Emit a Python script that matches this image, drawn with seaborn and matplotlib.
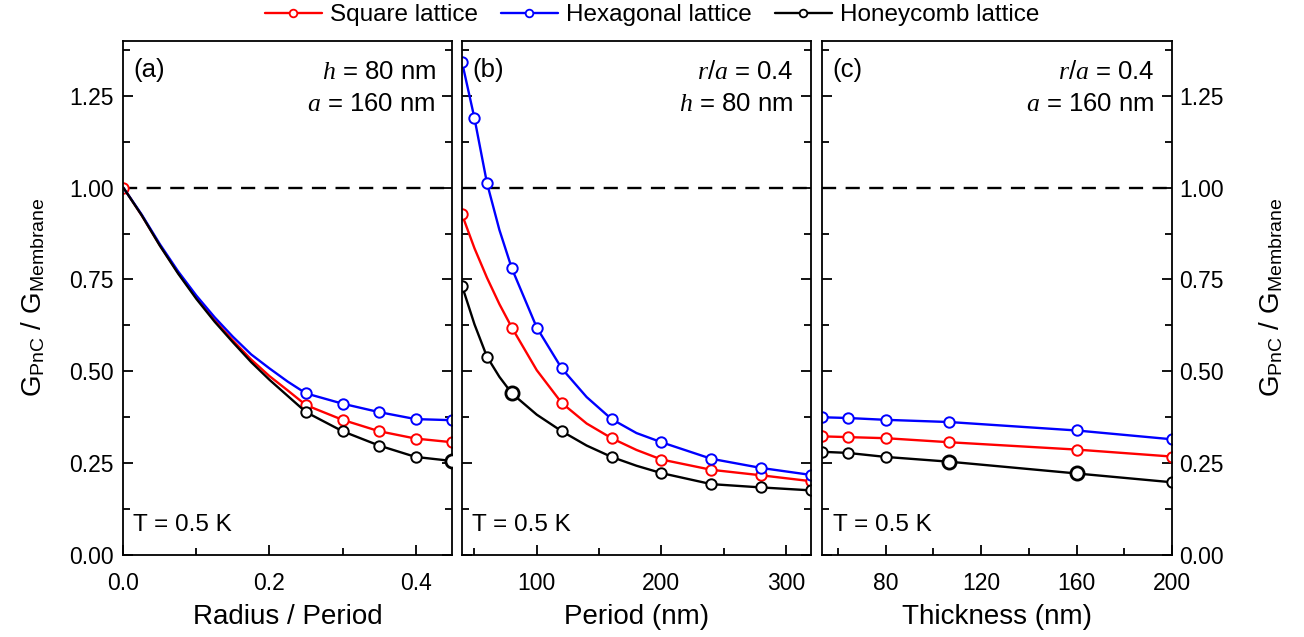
import matplotlib
matplotlib.use("Agg")
import matplotlib.pyplot as plt
import seaborn as sns
from matplotlib.ticker import MultipleLocator, FormatStrFormatter
from matplotlib.lines import Line2D

# series names and colours
lattices = ["Square lattice", "Hexagonal lattice", "Honeycomb lattice"]
colors = ["#ff0000", "#0000ff", "#000000"]

# (a) ratio vs radius / period  (h = 80 nm, a = 160 nm)
ra_x = [0.0, 0.025, 0.05, 0.075, 0.10, 0.125, 0.15, 0.175, 0.20, 0.225, 0.25, 0.30, 0.35, 0.40, 0.45]
ra_square = [1.0, 0.925, 0.843, 0.768, 0.700, 0.639, 0.584, 0.532, 0.487, 0.448, 0.408, 0.368, 0.337, 0.317, 0.307]
ra_hex = [1.0, 0.927, 0.846, 0.772, 0.706, 0.647, 0.594, 0.546, 0.508, 0.472, 0.440, 0.412, 0.389, 0.370, 0.367]
ra_honey = [1.0, 0.925, 0.842, 0.766, 0.697, 0.635, 0.579, 0.525, 0.477, 0.433, 0.389, 0.337, 0.298, 0.267, 0.256]
ra_marks = {"Square lattice": [0.0, 0.25, 0.30, 0.35, 0.40, 0.45],
            "Hexagonal lattice": [0.25, 0.30, 0.35, 0.40, 0.45],
            "Honeycomb lattice": [0.25, 0.30, 0.35, 0.40, 0.45]}
ra_bold = [0.45]

# (b) ratio vs period  (r/a = 0.4, h = 80 nm)
per_x = [40, 50, 60, 70, 80, 100, 120, 140, 160, 180, 200, 240, 280, 320]
per_square = [0.927, 0.835, 0.755, 0.683, 0.619, 0.503, 0.414, 0.358, 0.318, 0.286, 0.260, 0.232, 0.217, 0.201]
per_hex = [1.342, 1.189, 1.013, 0.885, 0.780, 0.619, 0.508, 0.430, 0.370, 0.332, 0.307, 0.262, 0.237, 0.218]
per_honey = [0.733, 0.628, 0.540, 0.485, 0.440, 0.382, 0.337, 0.298, 0.267, 0.243, 0.223, 0.193, 0.184, 0.176]
per_marks = {"Square lattice": [40, 80, 120, 160, 200, 240, 280, 320],
             "Hexagonal lattice": [40, 50, 60, 80, 100, 120, 160, 200, 240, 280, 320],
             "Honeycomb lattice": [40, 60, 80, 120, 160, 200, 240, 280, 320]}
per_bold = [80]

# (c) ratio vs thickness  (r/a = 0.4, a = 160 nm)
th_x = [53.33, 64, 80, 106.67, 160, 200]
th_square = [0.323, 0.321, 0.318, 0.307, 0.287, 0.268]
th_hex = [0.375, 0.373, 0.368, 0.362, 0.339, 0.315]
th_honey = [0.281, 0.278, 0.267, 0.254, 0.222, 0.198]
th_marks = {name: th_x for name in lattices}
th_bold = [106.67, 160]

sns.set_theme(style="ticks")
plt.rcParams["font.family"] = ["Liberation Sans", "DejaVu Sans"]
plt.rcParams.update({
    "mathtext.fontset": "custom",
    "mathtext.rm": "Liberation Sans",
    "mathtext.it": "Liberation Serif:italic",
    "mathtext.bf": "Liberation Sans:bold",
    "text.color": "black",
    "axes.labelcolor": "black",
    "axes.edgecolor": "black",
    "axes.linewidth": 1.3,
    "xtick.color": "black",
    "ytick.color": "black",
})

fig = plt.figure(figsize=(13.04, 6.37), dpi=100)
bot, hgt = 0.1287, 0.8074
ax_a = fig.add_axes([0.0946, bot, 0.2521, hgt])
ax_b = fig.add_axes([0.3543, bot, 0.2676, hgt])
ax_c = fig.add_axes([0.6304, bot, 0.2684, hgt])


def draw_panel(ax, x, ys, marks, bold):
    for name, col in zip(lattices, colors):
        y = ys[name]
        idx = [x.index(v) for v in marks[name]]
        sns.lineplot(x=x, y=y, ax=ax, color=col, lw=1.7, marker="o", markevery=idx,
                     markersize=7.5, markerfacecolor="white", markeredgecolor=col,
                     markeredgewidth=1.4, estimator=None, sort=False, legend=False)
    # a few honeycomb points are drawn heavier in the original
    yh = ys["Honeycomb lattice"]
    by = [yh[x.index(v)] for v in bold]
    ax.plot(bold, by, "o", ms=9.5, mfc="white", mec="black", mew=2.0, zorder=5)
    ax.axhline(1.0, color="black", lw=1.7, ls=(0, (6, 4)), zorder=1)


draw_panel(ax_a, ra_x, dict(zip(lattices, [ra_square, ra_hex, ra_honey])), ra_marks, ra_bold)
draw_panel(ax_b, per_x, dict(zip(lattices, [per_square, per_hex, per_honey])), per_marks, per_bold)
draw_panel(ax_c, th_x, dict(zip(lattices, [th_square, th_hex, th_honey])), th_marks, th_bold)

ax_a.set_xlim(0, 0.45)
ax_a.xaxis.set_major_locator(MultipleLocator(0.2))
ax_a.xaxis.set_minor_locator(MultipleLocator(0.1))
ax_a.xaxis.set_major_formatter(FormatStrFormatter("%.1f"))
ax_a.set_xlabel("Radius / Period", fontsize=20)

ax_b.set_xlim(40, 320)
ax_b.xaxis.set_major_locator(MultipleLocator(100))
ax_b.xaxis.set_minor_locator(MultipleLocator(50))
ax_b.set_xlabel("Period (nm)", fontsize=20)

ax_c.set_xlim(53.33, 200)
ax_c.xaxis.set_major_locator(MultipleLocator(40))
ax_c.xaxis.set_minor_locator(MultipleLocator(20))
ax_c.set_xlabel("Thickness (nm)", fontsize=20)

ylab = r"G$_{\mathregular{PnC}}$ / G$_{\mathregular{Membrane}}$"
for ax in (ax_a, ax_b, ax_c):
    ax.set_ylim(0, 1.40)
    ax.yaxis.set_major_locator(MultipleLocator(0.25))
    ax.yaxis.set_minor_locator(MultipleLocator(0.125))
    ax.yaxis.set_major_formatter(FormatStrFormatter("%.2f"))
    ax.tick_params(which="both", direction="in", left=True, right=True, top=False,
                   bottom=True, width=1.3, labelsize=16.5, colors="black")
    ax.tick_params(which="major", length=7)
    ax.tick_params(which="minor", length=5)
    ax.tick_params(axis="x", pad=12)
    ax.tick_params(axis="y", pad=7)
    ax.xaxis.labelpad = 7
    for sp in ax.spines.values():
        sp.set_visible(True)
        sp.set_color("black")
        sp.set_linewidth(1.3)

ax_a.set_ylabel(ylab, fontsize=20, labelpad=16)
ax_b.tick_params(labelleft=False)
ax_c.tick_params(labelleft=False, labelright=True)
ax_c.tick_params(axis="y", pad=5)
ax_c.yaxis.set_label_position("right")
ax_c.set_ylabel(ylab, fontsize=20, labelpad=24)
ax_b.set_ylabel("")

# panel notes
notes = [
    (ax_a, "(a)", r"$h$ = 80 nm", r"$a$ = 160 nm"),
    (ax_b, "(b)", r"$r/a$ = 0.4", r"$h$ = 80 nm"),
    (ax_c, "(c)", r"$r/a$ = 0.4", r"$a$ = 160 nm"),
]
for ax, tag, l1, l2 in notes:
    ax.text(0.03, 0.944, tag, transform=ax.transAxes, fontsize=18.5, ha="left", va="center")
    ax.text(0.95, 0.940, l1, transform=ax.transAxes, fontsize=18.5, ha="right", va="center")
    ax.text(0.95, 0.877, l2, transform=ax.transAxes, fontsize=18.5, ha="right", va="center")
    ax.text(0.03, 0.058, "T = 0.5 K", transform=ax.transAxes, fontsize=17.5, ha="left", va="center")

handles = [Line2D([], [], color=c, lw=1.7, marker="o", ms=5.5, mfc="white", mec=c, mew=1.3)
           for c in colors]
fig.legend(handles, lattices, loc="center", bbox_to_anchor=(0.5, 1 - 15 / 637), ncol=3,
           frameon=False, fontsize=17.5, handlelength=2.35, handletextpad=0.33,
           columnspacing=0.95, borderpad=0)

fig.savefig("out.png", dpi=100, facecolor="white")
